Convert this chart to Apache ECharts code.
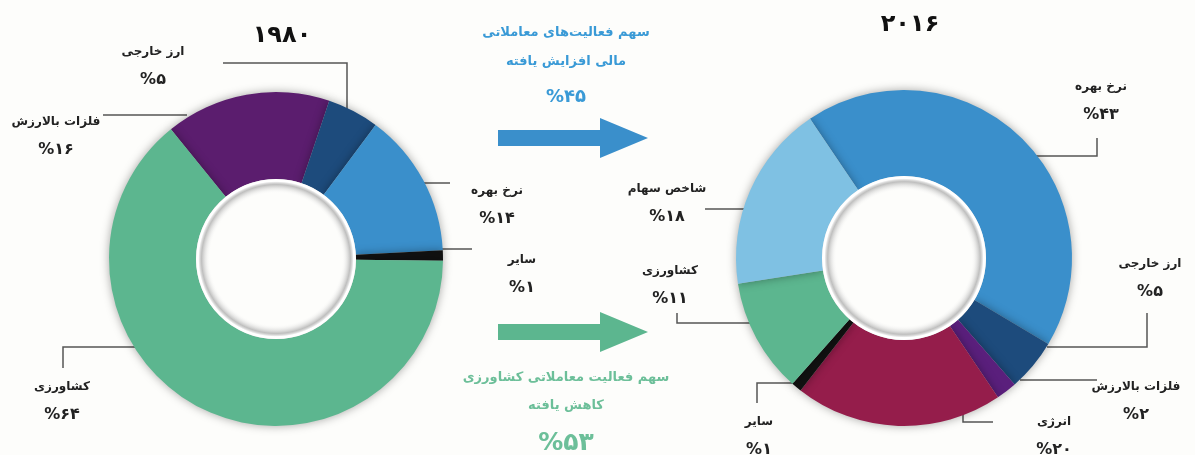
<!DOCTYPE html>
<html lang="fa">
<head>
<meta charset="UTF-8">
<title>1980 / 2016</title>
<script src="https://cdn.jsdelivr.net/npm/echarts@6/dist/echarts.min.js"></script>
<style>
  html, body { margin: 0; padding: 0; background: #fdfdfb; }
  #main { width: 1195px; height: 455px; }
</style>
</head>
<body>
<div id="main"></div>
<script>
// 1980 shares (clockwise from the top-left edge of the purple slice)
const names1980 = ['فلزات بالارزش', 'ارز خارجی', 'نرخ بهره', 'سایر', 'کشاورزی'];
const values1980 = [16, 5, 14, 1, 64];
const colors1980 = ['#5b1d6e', '#1d4b7c', '#3a8fcb', '#111111', '#5cb68f'];

// 2016 shares (clockwise from the top edge of the blue slice)
const names2016 = ['نرخ بهره', 'ارز خارجی', 'فلزات بالارزش', 'انرژی', 'سایر', 'کشاورزی', 'شاخص سهام'];
const values2016 = [43, 5, 2, 20, 1, 11, 18];
const colors2016 = ['#3a8fcb', '#1d4b7c', '#5a1f7c', '#951d4b', '#111111', '#5cb68f', '#7fc1e3'];

const years = ['1980', '2016'];
const financeUp = 45;
const agriDown = 53;

const faDigits = '۰۱۲۳۴۵۶۷۸۹';
function fa(n) {
  return String(n).replace(/[0-9]/g, d => faDigits[d]);
}

// label block centres and leader lines, per data index
const layout1980 = [
  { x: 56, y: 136, line: [[187, 115], [103, 115]] },
  { x: 153, y: 66, line: [[347, 120], [347, 63], [223, 63]] },
  { x: 497, y: 205, line: [[410, 183], [450, 183]] },
  { x: 522, y: 274, line: [[440, 249], [472, 249]] },
  { x: 62, y: 401, line: [[157, 347], [63, 347], [63, 368]] }
];
const layout2016 = [
  { x: 1101, y: 101, line: [[1020, 156], [1097, 156], [1097, 138]] },
  { x: 1150, y: 278, line: [[1047, 347], [1147, 347], [1147, 313]] },
  { x: 1136, y: 401, line: [[1020, 380], [1097, 380]] },
  { x: 1054, y: 436, line: [[963, 410], [963, 422], [993, 422]] },
  { x: 759, y: 436, line: [[800, 383], [757, 383], [757, 403]] },
  { x: 670, y: 285, line: [[765, 323], [677, 323], [677, 313]] },
  { x: 667, y: 203, line: [[762, 209], [705, 209]] }
];

const font = '"DejaVu Sans", sans-serif';

function donut(names, values, colors, center, radius, startAngle, pos) {
  return {
    type: 'pie',
    center: center,
    radius: radius,
    startAngle: startAngle,
    clockwise: true,
    avoidLabelOverlap: false,
    silent: true,
    itemStyle: { shadowBlur: 10, shadowColor: 'rgba(0,0,0,0.35)' },
    label: {
      show: true,
      position: 'outside',
      formatter: p => '{n|' + p.name + '}\n{p|%' + fa(p.value) + '}',
      rich: {
        n: { fontFamily: font, fontWeight: 'bold', fontSize: 12, color: '#222', lineHeight: 28 },
        p: { fontFamily: font, fontWeight: 'bold', fontSize: 16, color: '#222', lineHeight: 28 }
      }
    },
    labelLine: { show: true, lineStyle: { color: '#555', width: 1.5 } },
    labelLayout: p => ({
      x: pos[p.dataIndex].x,
      y: pos[p.dataIndex].y,
      align: 'center',
      verticalAlign: 'middle',
      labelLinePoints: pos[p.dataIndex].line
    }),
    data: names.map((n, i) => ({ name: n, value: values[i], itemStyle: { color: colors[i] } }))
  };
}

function holeRing(cx, cy, r) {
  return {
    type: 'ring', z: 10, silent: true,
    shape: { cx: cx, cy: cy, r: r, r0: r - 14 },
    style: {
      fill: {
        type: 'radial', x: 0.5, y: 0.5, r: 0.5,
        colorStops: [
          { offset: 0.82, color: 'rgba(255,255,255,0)' },
          { offset: 0.93, color: 'rgba(170,170,170,0.7)' },
          { offset: 0.97, color: '#ffffff' },
          { offset: 1, color: '#ffffff' }
        ]
      }
    }
  };
}

function arrow(x, y, color) {
  return {
    type: 'polygon', silent: true,
    shape: { points: [[x, y - 8], [x + 102, y - 8], [x + 102, y - 20], [x + 150, y], [x + 102, y + 20], [x + 102, y + 8], [x, y + 8]] },
    style: { fill: color }
  };
}

function text(x, y, str, size, color) {
  return {
    type: 'text', silent: true, x: x, y: y,
    style: { text: str, font: 'bold ' + size + 'px ' + font, fill: color, align: 'center', verticalAlign: 'middle' }
  };
}

const chart = echarts.init(document.getElementById('main'));
chart.setOption({
  backgroundColor: '#fdfdfb',
  animation: false,
  series: [
    donut(names1980, values1980, colors1980, [276, 259], [80, 167], 129, layout1980),
    donut(names2016, values2016, colors2016, [904, 258], [82, 168], 124, layout2016)
  ],
  graphic: [
    holeRing(276, 259, 80),
    holeRing(904, 258, 82),
    text(282, 36, fa(years[0]), 24, '#111'),
    text(910, 25, fa(years[1]), 24, '#111'),
    text(566, 33, 'سهم فعالیت‌های معاملاتی', 13, '#3a9ad6'),
    text(566, 62, 'مالی افزایش یافته', 13, '#3a9ad6'),
    text(566, 97, '%' + fa(financeUp), 18, '#3a9ad6'),
    arrow(498, 138, '#3a8fcb'),
    arrow(498, 332, '#5cb68f'),
    text(566, 378, 'سهم فعالیت معاملاتی کشاورزی', 13, '#6cbf99'),
    text(566, 406, 'کاهش یافته', 13, '#6cbf99'),
    text(566, 443, '%' + fa(agriDown), 25, '#6cbf99')
  ]
});
</script>
</body>
</html>
